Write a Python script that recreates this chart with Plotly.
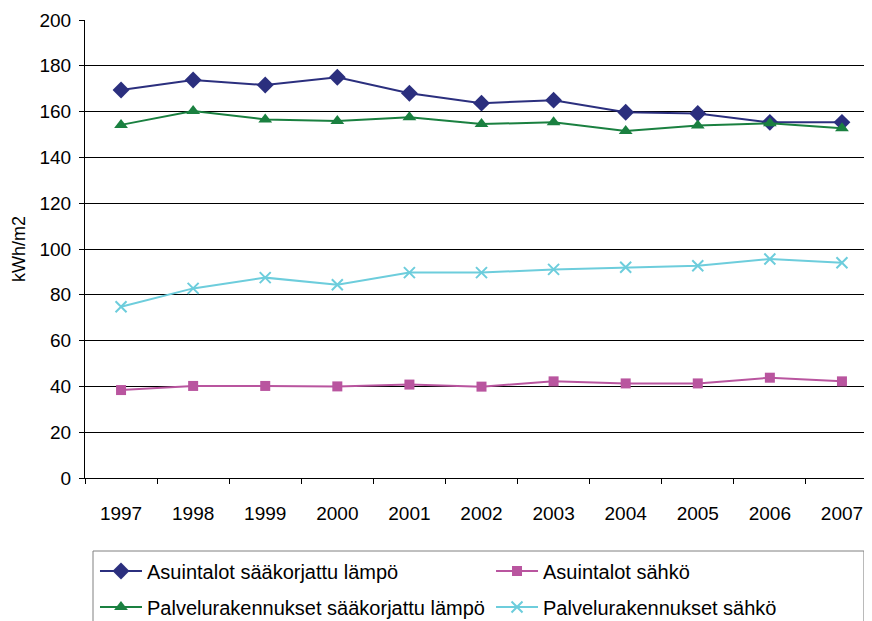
import plotly.graph_objects as go

years = ["1997", "1998", "1999", "2000", "2001", "2002", "2003", "2004", "2005", "2006", "2007"]
asuin_lampo = [169.4, 173.8, 171.6, 175.0, 168.0, 163.7, 165.0, 159.7, 159.2, 155.3, 155.3]
asuin_sahko = [38.4, 40.2, 40.2, 40.0, 40.8, 39.9, 42.2, 41.3, 41.3, 43.8, 42.2]
palv_lampo = [154.2, 160.3, 156.6, 155.9, 157.5, 154.6, 155.3, 151.5, 153.9, 154.9, 152.7]
palv_sahko = [74.8, 82.8, 87.5, 84.4, 89.7, 89.7, 91.1, 92.0, 92.7, 95.6, 94.0]

names = ["Asuintalot sääkorjattu lämpö", "Asuintalot sähkö",
         "Palvelurakennukset sääkorjattu lämpö", "Palvelurakennukset sähkö"]

FONT = "Liberation Sans, Arial, sans-serif"

fig = go.Figure()
fig.add_trace(go.Scatter(x=years, y=asuin_lampo, name=names[0], mode="lines+markers",
                         line=dict(color="#2B2F7E", width=2),
                         marker=dict(symbol="diamond", size=13, color="#2B2F7E"),
                         legend="legend"))
fig.add_trace(go.Scatter(x=years, y=asuin_sahko, name=names[1], mode="lines+markers",
                         line=dict(color="#B9559F", width=2),
                         marker=dict(symbol="square", size=10, color="#B9559F"),
                         legend="legend2"))
fig.add_trace(go.Scatter(x=years, y=palv_lampo, name=names[2], mode="lines+markers",
                         line=dict(color="#1A8040", width=2),
                         marker=dict(symbol="triangle-up", size=12, color="#1A8040"),
                         legend="legend3"))
fig.add_trace(go.Scatter(x=years, y=palv_sahko, name=names[3], mode="lines+markers",
                         line=dict(color="#6DCDDC", width=2),
                         marker=dict(symbol="x-thin", size=11, color="#6DCDDC",
                                     line=dict(color="#6DCDDC", width=2)),
                         legend="legend4"))

legend_common = dict(orientation="h", xanchor="left", yanchor="middle",
                     font=dict(family=FONT, size=20, color="#000000"),
                     bgcolor="rgba(0,0,0,0)", borderwidth=0, itemwidth=42)

fig.update_layout(
    width=872, height=621,
    margin=dict(l=77, r=2, t=12, b=151, autoexpand=False),
    paper_bgcolor="white", plot_bgcolor="white",
    font=dict(family=FONT, size=19, color="#000000"),
    showlegend=True,
    legend=dict(x=0.0126, y=-0.2031, **legend_common),
    legend2=dict(x=0.512, y=-0.2031, **legend_common),
    legend3=dict(x=0.0126, y=-0.2817, **legend_common),
    legend4=dict(x=0.512, y=-0.2817, **legend_common),
    xaxis=dict(type="category", range=[-0.5, 10.5], showgrid=False,
               showline=True, linecolor="#000000", linewidth=1,
               ticks="outside", tickson="boundaries", ticklen=5, tickcolor="#000000",
               tickfont=dict(family=FONT, size=19), ticklabelstandoff=18,
               zeroline=False),
    yaxis=dict(range=[0, 200], dtick=20, showgrid=True, gridcolor="#000000", gridwidth=1,
               showline=True, linecolor="#000000", linewidth=1,
               ticks="outside", ticklen=5, tickcolor="#000000",
               tickfont=dict(family=FONT, size=19), ticklabelstandoff=4,
               zeroline=False,
               title=dict(text="kWh/m2", font=dict(family=FONT, size=18), standoff=9)),
    shapes=[dict(type="rect", xref="paper", yref="paper",
                 x0=0.0101, x1=0.9823, y0=-0.1594, y1=-0.36,
                 line=dict(color="#808080", width=1), fillcolor="rgba(0,0,0,0)")],
)

fig.write_html("out.html")
